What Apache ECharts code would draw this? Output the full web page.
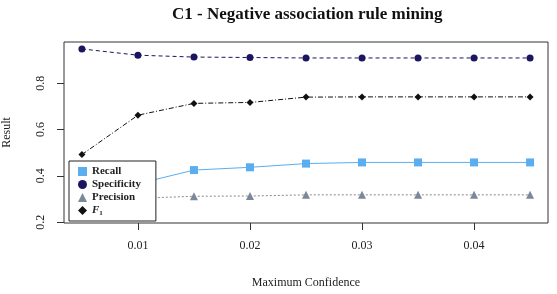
<!DOCTYPE html>
<html>
<head>
<meta charset="utf-8">
<script src="https://cdn.jsdelivr.net/npm/echarts@6/dist/echarts.min.js"></script>
<style>
  html, body { margin: 0; padding: 0; background: #fff; }
  #chart { width: 557px; height: 294px; }
</style>
</head>
<body>
<div id="chart"></div>
<script>
// max confidence values on the x axis
var confidence = [0.005, 0.01, 0.015, 0.02, 0.025, 0.03, 0.035, 0.04, 0.045];
var recall      = [0.23, 0.366, 0.425, 0.437, 0.453, 0.458, 0.458, 0.458, 0.458];
var specificity = [0.948, 0.921, 0.913, 0.911, 0.909, 0.909, 0.909, 0.909, 0.909];
var precision   = [0.29, 0.303, 0.312, 0.313, 0.318, 0.318, 0.318, 0.318, 0.318];
var f1          = [0.492, 0.662, 0.713, 0.717, 0.74, 0.741, 0.741, 0.741, 0.741];
var xTicks = [0.01, 0.02, 0.03, 0.04];
var yTicks = [0.2, 0.4, 0.6, 0.8];

var font = 'Liberation Serif';

function pairs(vals) {
    return confidence.map(function (c, i) { return [c, vals[i]]; });
}

function mkSeries(name, vals, color, symbol, size, lineType, lineColor) {
    return {
        name: name,
        type: 'line',
        data: pairs(vals),
        symbol: symbol,
        symbolSize: size,
        itemStyle: { color: color },
        lineStyle: { color: lineColor || color, width: 1, type: lineType },
        emphasis: { disabled: true },
        animation: false
    };
}

var myChart = echarts.init(document.getElementById('chart'));
myChart.setOption({
    backgroundColor: '#fff',
    title: {
        text: 'C1 - Negative association rule mining',
        left: 167,
        top: 1,
        textStyle: { fontFamily: font, fontSize: 17, fontWeight: 'bold', color: '#111' }
    },
    grid: {
        left: 64, right: 9, top: 42, bottom: 71,
        outerBoundsMode: 'none',
        containLabel: false,
        show: true, borderColor: '#333', borderWidth: 1
    },
    legend: {
        orient: 'vertical',
        left: 69, top: 161,
        padding: [4, 15, 4, 9],
        itemWidth: 9, itemHeight: 9, itemGap: 0,
        backgroundColor: '#fff',
        borderColor: '#222', borderWidth: 1,
        borderRadius: 0,
        textStyle: {
            fontFamily: font, fontSize: 11, fontWeight: 'bold', color: '#222', lineHeight: 13,
            rich: {
                i: { fontFamily: font, fontSize: 11, fontStyle: 'italic', color: '#222', lineHeight: 13 },
                s: { fontFamily: font, fontSize: 7, color: '#222', verticalAlign: 'bottom', lineHeight: 13, padding: [4, 0, 0, 0] }
            }
        },
        formatter: function (name) {
            return name === 'F1' ? '{i|F}{s|1}' : name;
        },
        data: [
            { name: 'Recall', icon: 'rect' },
            { name: 'Specificity', icon: 'circle' },
            { name: 'Precision', icon: 'triangle' },
            { name: 'F1', icon: 'diamond' }
        ]
    },
    xAxis: {
        type: 'value',
        min: 0.0034, max: 0.0466,
        name: 'Maximum Confidence',
        nameLocation: 'middle',
        nameGap: 54,
        nameTextStyle: { fontFamily: font, fontSize: 12, color: '#222' },
        axisLine: { show: false },
        axisTick: { show: true, inside: false, length: 7, customValues: xTicks, lineStyle: { color: '#333' } },
        axisLabel: { customValues: xTicks, margin: 17, fontFamily: font, fontSize: 12, color: '#222',
            formatter: function (v) { return v.toFixed(2); } },
        splitLine: { show: false }
    },
    yAxis: {
        type: 'value',
        min: 0.1965, max: 0.978,
        name: 'Result',
        nameLocation: 'middle',
        nameGap: 51,
        nameRotate: 90,
        nameTextStyle: { fontFamily: font, fontSize: 12, color: '#222' },
        axisLine: { show: false },
        axisTick: { show: true, inside: false, length: 7, customValues: yTicks, lineStyle: { color: '#333' } },
        axisLabel: { customValues: yTicks, rotate: 90, margin: 17, fontFamily: font, fontSize: 12, color: '#222',
            formatter: function (v) { return v.toFixed(1); } },
        splitLine: { show: false }
    },
    series: [
        mkSeries('Recall', recall, '#5aaef0', 'rect', 8, 'solid'),
        mkSeries('Specificity', specificity, '#1c1660', 'circle', 7, [4, 3]),
        mkSeries('Precision', precision, '#7b8899', 'triangle', 8, [2, 2], '#8a8a8a'),
        mkSeries('F1', f1, '#111', 'diamond', 7, [5, 2, 1, 2])
    ]
});
</script>
</body>
</html>
